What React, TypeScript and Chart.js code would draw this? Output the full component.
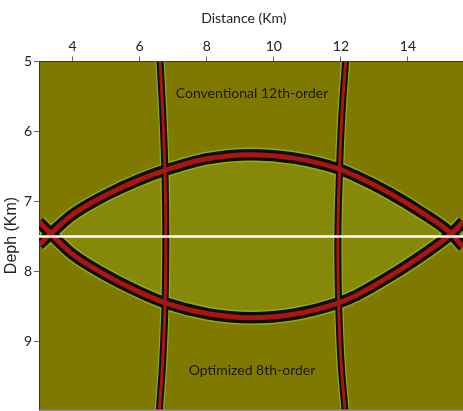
import React, { useEffect, useRef } from 'react';
import { Chart, registerables } from 'chart.js';

Chart.register(...registerables);

// Axis ticks and ranges (km)
const X_TICKS = [4, 6, 8, 10, 12, 14];
const Y_TICKS = [5, 6, 7, 8, 9];
const X_MIN = 3;
const X_MAX = 15.64;
const Y_MIN = 5;
const Y_MAX = 9.97;

// Upper wavefront (concave down)
const UPPER_X = [3.0, 3.35, 3.99, 4.99, 5.98, 6.78, 8.0, 9.32, 10.6, 11.91, 12.46, 13.45, 14.45, 15.29, 15.64];
const UPPER_Y = [7.62, 7.46, 7.19, 6.91, 6.69, 6.55, 6.39, 6.33, 6.38, 6.53, 6.64, 6.88, 7.17, 7.46, 7.65];

// Lower wavefront (concave up)
const LOWER_X = [3.0, 3.35, 3.99, 4.99, 5.98, 6.78, 8.0, 9.32, 10.6, 11.91, 12.46, 13.45, 14.45, 15.29, 15.64];
const LOWER_Y = [7.29, 7.46, 7.75, 8.05, 8.29, 8.45, 8.6, 8.66, 8.61, 8.45, 8.34, 8.07, 7.76, 7.46, 7.29];

// Near-vertical wavefronts
const VERT_Y = [5.0, 5.84, 6.69, 7.49, 8.41, 9.26, 9.97];
const LEFT_X = [6.61, 6.7, 6.76, 6.78, 6.76, 6.69, 6.59];
const RIGHT_X = [12.14, 12.02, 11.95, 11.91, 11.93, 12.0, 12.12];

// Separation line between the two panels
const DIVIDER_X = [3, 15.64];
const DIVIDER_Y = [7.5, 7.5];

// Panel notes
const NOTE_TEXT = ['Conventional 12th-order', 'Optimized 8th-order'];
const NOTE_X = [9.35, 9.35];
const NOTE_Y = [5.45, 9.41];

const OLIVE = '#7f7900';
const LENS = '#86880a';
const RED = '#a81512';
const BLACK = '#0c0c00';
const HALO = 'rgba(150,190,25,0.75)';

const FONT = 'Lato, "Open Sans", sans-serif';

const pts = (xs: number[], ys: number[]) => xs.map((x, i) => ({ x, y: ys[i] }));

export default function App() {
  const ref = useRef<HTMLCanvasElement | null>(null);

  useEffect(() => {
    if (!ref.current) return;

    const upper = pts(UPPER_X, UPPER_Y);
    const lower = pts(LOWER_X, LOWER_Y);
    const left = pts(LEFT_X, VERT_Y);
    const right = pts(RIGHT_X, VERT_Y);

    const arc = (data: any, color: string, width: number, order: number) => ({
      data,
      borderColor: color,
      borderWidth: width,
      pointRadius: 0,
      cubicInterpolationMode: 'monotone',
      fill: false,
      clip: 0,
      order,
    });
    const vert = (data: any, color: string, width: number, order: number) => ({
      data,
      borderColor: color,
      borderWidth: width,
      pointRadius: 0,
      tension: 0.4,
      fill: false,
      clip: 0,
      order,
    });

    const bgPlugin = {
      id: 'bgPlugin',
      beforeDraw(chart: any) {
        const { ctx, chartArea } = chart;
        ctx.save();
        ctx.fillStyle = OLIVE;
        ctx.fillRect(chartArea.left, chartArea.top, chartArea.right - chartArea.left, chartArea.bottom - chartArea.top);
        ctx.restore();
      },
      afterDatasetsDraw(chart: any) {
        const { ctx, scales, chartArea } = chart;
        ctx.save();
        ctx.fillStyle = '#1a1800';
        ctx.font = '14px ' + FONT;
        ctx.textAlign = 'center';
        ctx.textBaseline = 'middle';
        NOTE_TEXT.forEach((t, i) => {
          ctx.fillText(t, scales.x.getPixelForValue(NOTE_X[i]), scales.y.getPixelForValue(NOTE_Y[i]));
        });
        ctx.strokeStyle = '#333333';
        ctx.lineWidth = 1;
        ctx.beginPath();
        ctx.moveTo(chartArea.left, chartArea.bottom + 0.5);
        ctx.lineTo(chartArea.right, chartArea.bottom + 0.5);
        ctx.stroke();
        ctx.restore();
      },
    };

    const chart = new Chart(ref.current, {
      type: 'line',
      data: {
        datasets: [
          // 0 divider
          {
            data: pts(DIVIDER_X, DIVIDER_Y),
            borderColor: '#ffffff',
            borderWidth: 2.5,
            pointRadius: 0,
            fill: false,
            clip: 0,
            order: 0,
          } as any,
          // 1-4 red cores
          arc(upper, RED, 5, 1),
          arc(lower, RED, 5, 1),
          vert(left, RED, 3, 1),
          vert(right, RED, 3, 1),
          // 5-8 black bands
          arc(upper, BLACK, 11.5, 2),
          arc(lower, BLACK, 11.5, 2),
          vert(left, BLACK, 7, 2),
          vert(right, BLACK, 7, 2),
          // 9-12 halos
          arc(upper, HALO, 14.5, 3),
          arc(lower, HALO, 14.5, 3),
          vert(left, HALO, 9.5, 3),
          vert(right, HALO, 9.5, 3),
          // 13 lens fill (upper) -> 14 (lower)
          {
            data: upper,
            borderColor: 'rgba(0,0,0,0)',
            borderWidth: 0,
            pointRadius: 0,
            cubicInterpolationMode: 'monotone',
            backgroundColor: LENS,
            fill: { target: 14, above: LENS, below: 'rgba(0,0,0,0)' },
            clip: 0,
            order: 5,
          } as any,
          {
            data: lower,
            borderColor: 'rgba(0,0,0,0)',
            borderWidth: 0,
            pointRadius: 0,
            cubicInterpolationMode: 'monotone',
            fill: false,
            clip: 0,
            order: 5,
          } as any,
        ] as any,
      },
      options: {
        animation: false,
        responsive: false,
        maintainAspectRatio: false,
        events: [],
        layout: { padding: { left: 0, top: 0, right: 0, bottom: 1.5 } },
        plugins: {
          legend: { display: false },
          tooltip: { enabled: false },
        },
        scales: {
          x: {
            type: 'linear',
            position: 'top',
            min: X_MIN,
            max: X_MAX,
            afterBuildTicks: (s: any) => {
              s.ticks = X_TICKS.map((v) => ({ value: v }));
            },
            afterFit: (s: any) => {
              s.height = 61.5;
              s.paddingLeft = 0;
              s.paddingRight = 0;
            },
            ticks: {
              color: '#222222',
              font: { family: FONT, size: 14 },
              padding: 2,
              maxRotation: 0,
            },
            grid: { display: true, drawOnChartArea: false, drawTicks: true, tickLength: 5, color: '#666666' },
            border: { display: true, color: '#3a3a3a', width: 1 },
            title: {
              display: true,
              text: 'Distance (Km)\u00a0\u00a0\u00a0\u00a0',
              color: '#222222',
              font: { family: FONT, size: 14 },
              padding: { top: 10, bottom: 0 },
            },
          },
          y: {
            type: 'linear',
            reverse: true,
            min: Y_MIN,
            max: Y_MAX,
            afterBuildTicks: (s: any) => {
              s.ticks = Y_TICKS.map((v) => ({ value: v }));
            },
            afterFit: (s: any) => {
              s.width = 39;
              s.paddingTop = 0;
              s.paddingBottom = 0;
            },
            ticks: {
              color: '#222222',
              font: { family: FONT, size: 14 },
              padding: 2,
            },
            grid: { display: true, drawOnChartArea: false, drawTicks: true, tickLength: 5, color: '#666666' },
            border: { display: true, color: '#3a3a3a', width: 1 },
            title: {
              display: true,
              text: 'Deph (Km)',
              color: '#222222',
              font: { family: '"Liberation Sans", Arial, sans-serif', size: 16 },
              padding: { top: 2.4, bottom: 0 },
            },
          },
        },
      } as any,
      plugins: [bgPlugin],
    });

    return () => chart.destroy();
  }, []);

  return (
    <div style={{ position: 'fixed', left: 0, top: 0, width: 463, height: 411, background: '#ffffff' }}>
      <canvas ref={ref} width={463} height={411} style={{ display: 'block', width: 463, height: 411 }} />
    </div>
  );
}
